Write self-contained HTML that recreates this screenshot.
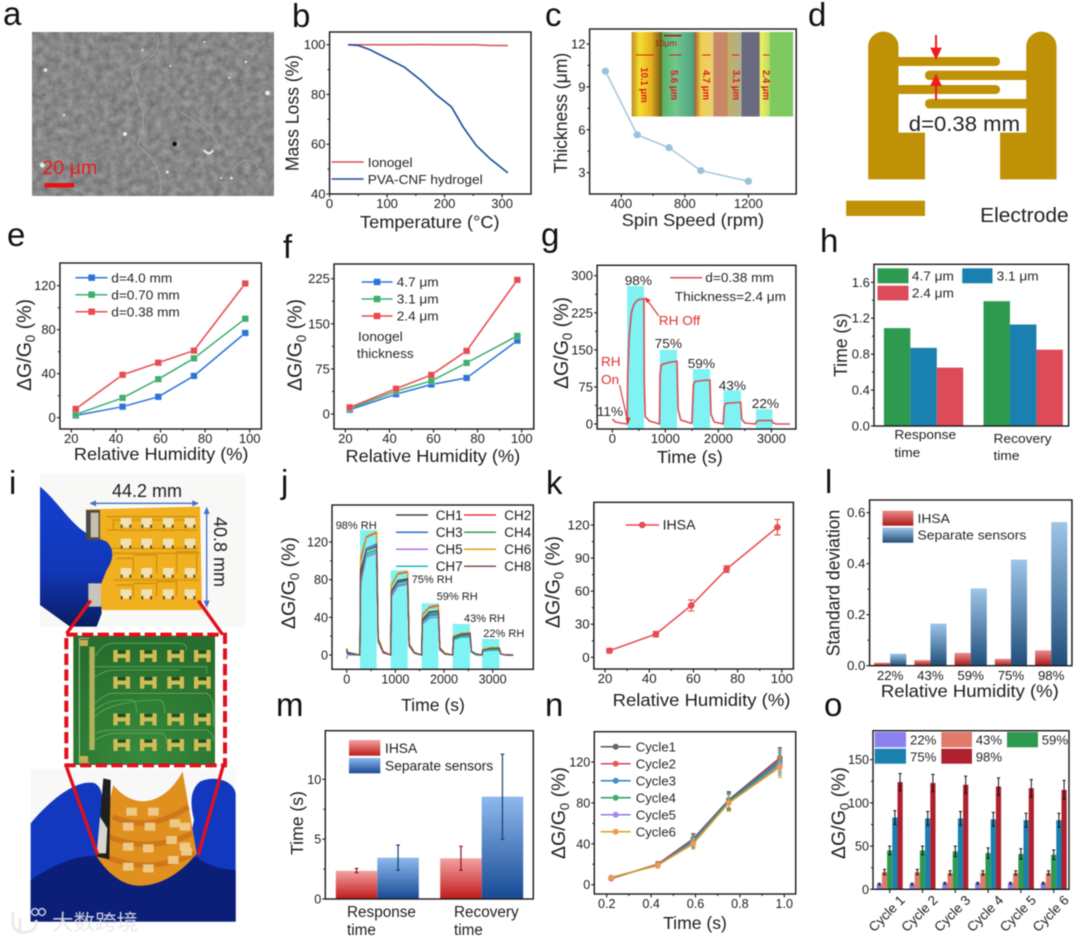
<!DOCTYPE html>
<html lang="en">
<head>
<meta charset="utf-8">
<title>Humidity sensor array figure</title>
<style>
html,body{margin:0;padding:0;background:#fff;width:1080px;height:941px;overflow:hidden}
svg{display:block;filter:blur(0.5px)}
text{font-family:"Liberation Sans","Noto Sans CJK SC",sans-serif;fill:#1d1d1d}
.letter{font-size:33px;fill:#111}
.title{font-size:17.6px;fill:#1d1d1d}
.dg{font-size:19.6px;fill:#1d1d1d}
.leg{font-size:13.2px;fill:#262626}
.red{fill:#e0302f}
.pin{font-size:9.5px;fill:#e01818;font-weight:bold}
</style>
</head>
<body>
<svg id="fig" xmlns="http://www.w3.org/2000/svg" width="1080" height="941" viewBox="0 0 1080 941">
<defs>
<filter id="sem" x="0" y="0" width="100%" height="100%" color-interpolation-filters="sRGB">
<feTurbulence type="fractalNoise" baseFrequency="0.14" numOctaves="4" seed="4"/>
<feColorMatrix values=".26 0 0 0 .4  .26 0 0 0 .4  .26 0 0 0 .4  0 0 0 0 1"/>
</filter>
<linearGradient id="redL" x1="0" y1="0" x2="0" y2="1"><stop offset="0" stop-color="#ee8a8a"/><stop offset="1" stop-color="#a81c1c"/></linearGradient>
<linearGradient id="blueL" x1="0" y1="0" x2="0" y2="1"><stop offset="0" stop-color="#9fc5e8"/><stop offset="1" stop-color="#1f4e79"/></linearGradient>
<linearGradient id="redM" x1="0" y1="0" x2="0" y2="1"><stop offset="0" stop-color="#f4a2a2"/><stop offset="1" stop-color="#c01a1a"/></linearGradient>
<linearGradient id="blueM" x1="0" y1="0" x2="0" y2="1"><stop offset="0" stop-color="#8fb9ee"/><stop offset="1" stop-color="#174a95"/></linearGradient>
<linearGradient id="film" x1="0" y1="0" x2="1" y2="0">
<stop offset="0" stop-color="#c08a20"/><stop offset=".05" stop-color="#f2e030"/><stop offset=".12" stop-color="#e8b020"/><stop offset=".185" stop-color="#6e5a10"/>
<stop offset=".19" stop-color="#55b060"/><stop offset=".27" stop-color="#70c890"/><stop offset=".385" stop-color="#50a080"/>
<stop offset=".39" stop-color="#a06030"/><stop offset=".43" stop-color="#f0d050"/><stop offset=".505" stop-color="#e8d070"/>
<stop offset=".507" stop-color="#c88868"/><stop offset=".592" stop-color="#c88868"/>
<stop offset=".597" stop-color="#c0b060"/><stop offset=".68" stop-color="#b0b090"/>
<stop offset=".682" stop-color="#6a6a80"/><stop offset=".79" stop-color="#6a6a80"/>
<stop offset=".795" stop-color="#f0f060"/><stop offset=".85" stop-color="#c0e060"/>
<stop offset=".86" stop-color="#80c860"/><stop offset="1" stop-color="#80c860"/>
</linearGradient>
<radialGradient id="pcb" cx=".5" cy=".9" r=".8"><stop offset="0" stop-color="#378a3d"/><stop offset="1" stop-color="#276f2e"/></radialGradient>
<linearGradient id="gloveDark" x1="0" y1="0" x2="0" y2="1"><stop offset="0" stop-color="#1440d0"/><stop offset=".6" stop-color="#1238b8"/><stop offset="1" stop-color="#0a1c60"/></linearGradient>
</defs>

<g>
<text class="letter" x="3" y="25">a</text>
<text class="letter" x="292" y="27">b</text>
<text class="letter" x="545" y="26">c</text>
<text class="letter" x="808" y="26">d</text>
<text class="letter" x="7" y="246">e</text>
<text class="letter" x="283" y="258">f</text>
<text class="letter" x="541" y="246">g</text>
<text class="letter" x="820" y="252">h</text>
<text class="letter" x="9" y="494">i</text>
<text class="letter" x="281" y="493">j</text>
<text class="letter" x="546" y="494">k</text>
<text class="letter" x="825" y="493">l</text>
<text class="letter" x="276" y="716">m</text>
<text class="letter" x="545" y="716">n</text>
<text class="letter" x="824" y="716">o</text>
</g>

<g transform="scale(1.0331,1)">
<g id="panel-a">
<rect x="31" y="32" width="234" height="164" fill="#868686" filter="url(#sem)"/>
<g fill="none" stroke="#a8a8a8" stroke-width="1" opacity=".8">
<path d="M152,34 C160,60 130,62 127,72 C135,100 145,120 133,145 C150,160 158,170 155,195"/>
<path d="M175,112 C195,125 215,140 212,152"/>
<path d="M225,170 C240,150 250,165 252,172"/>
</g>
<g fill="#e8e8e8">
<circle cx="44" cy="70" r="1.8"/><circle cx="41" cy="165" r="2.6"/><circle cx="121" cy="134" r="2"/><circle cx="259" cy="93" r="2.4"/><circle cx="162" cy="172" r="1.4"/><circle cx="224" cy="178" r="1.4"/><circle cx="214" cy="178" r="1"/><circle cx="138" cy="50" r="1"/><circle cx="62" cy="115" r="1.1"/><circle cx="198" cy="42" r="1"/><circle cx="238" cy="62" r="1.2"/><circle cx="222" cy="78" r="1"/><circle cx="165" cy="66" r="1"/>
<path d="M198,149 q4,6 8,0 l1,2 q-5,7 -10,0z"/>
</g>
<circle cx="169" cy="144" r="2.2" fill="#0c0c0c"/>
<text x="41" y="174" font-size="19" style="fill:#ee1c1c">20 μm</text>
<rect x="43" y="183" width="29" height="4.5" fill="#e81010"/>
</g>

<g id="panel-b">
<text class="title" transform="translate(289,113) rotate(-90)" text-anchor="middle">Mass Loss (%)</text>
<text class="title" x="416" y="228" text-anchor="middle">Temperature (°C)</text>
<line x1="321" x2="352" y1="162" y2="162" stroke="#d8505a" stroke-width="1.5"/>
<text class="leg" x="356" y="167">Ionogel</text>
<line x1="321" x2="352" y1="179" y2="179" stroke="#1c4f9c" stroke-width="1.5"/>
<text class="leg" x="356" y="184">PVA-CNF hydrogel</text>
</g>
</g>

<g transform="translate(540,0) scale(1.0331,1) translate(-540,0)">
<g id="panel-c">
<text class="title" transform="translate(566,113) rotate(-90)" text-anchor="middle">Thickness (μm)</text>
<text class="title" x="688" y="226" text-anchor="middle">Spin Speed (rpm)</text>
</g>
<g id="panel-c-inset">
<rect x="628.7" y="32" width="156.3" height="84.5" fill="url(#film)"/>
<rect x="660" y="34.8" width="17" height="1.6" fill="#b01818"/>
<text x="651" y="46" font-size="8.5" style="fill:#b01818">10μm</text>
<g stroke="#e01818" stroke-width="1">
<line x1="633" x2="650" y1="55" y2="55"/><line x1="665" x2="677" y1="55" y2="55"/><line x1="697" x2="705" y1="55" y2="55"/><line x1="726" x2="733" y1="55" y2="55"/><line x1="756" x2="762" y1="55" y2="55"/>
</g>
<text class="pin" transform="translate(638,85) rotate(90)" text-anchor="middle">10.1 μm</text>
<text class="pin" transform="translate(667,85) rotate(90)" text-anchor="middle">5.6 μm</text>
<text class="pin" transform="translate(698,85) rotate(90)" text-anchor="middle">4.7 μm</text>
<text class="pin" transform="translate(727,85) rotate(90)" text-anchor="middle">3.1 μm</text>
<text class="pin" transform="translate(756,85) rotate(90)" text-anchor="middle">2.4 μm</text>
</g>

<g id="panel-d">
<g transform="translate(540,0) scale(.33333)" fill="#bf9107">
<path d="M953,538 V139 A44,44 0 0 1 1041,139 V398 H1118 V538 Z"/>
<path d="M1500,538 V139 A44,44 0 0 0 1412,139 V398 H1336 V538 Z"/>
<rect x="1030" y="171" width="306" height="27" rx="13"/>
<rect x="1030" y="255" width="306" height="27" rx="13"/>
<rect x="1118" y="212" width="305" height="28" rx="13"/>
<rect x="1118" y="297" width="305" height="28" rx="13"/>
<rect x="889" y="602" width="229" height="46"/>
<g fill="#ee1c1c" stroke="#ee1c1c">
<line x1="1150" y1="105" x2="1150" y2="150" stroke-width="6"/><path d="M1133,143 H1167 L1150,180 Z" stroke="none"/>
<line x1="1150" y1="250" x2="1150" y2="300" stroke-width="6"/><path d="M1133,258 H1167 L1150,221 Z" stroke="none"/>
</g>
</g>
<text x="897" y="131" font-size="21.4" style="fill:#222">d=0.38 mm</text>
<text x="966" y="222" font-size="20.3" style="fill:#222">Electrode</text>
</g>
</g>

<g transform="scale(1.0331,1)">
<g id="panel-e">
<text class="dg" transform="translate(30,345) rotate(-90)" text-anchor="middle">ΔG/G<tspan font-size="13" dy="4">0</tspan><tspan dy="-4"> (%)</tspan></text>
<text class="title" x="156" y="460" text-anchor="middle">Relative Humidity (%)</text>
<g>
<line x1="73" x2="104" y1="277.7" y2="277.7" stroke="#2b74d8" stroke-width="1.5"/><rect x="85.5" y="274.5" width="6.4" height="6.4" fill="#2b74d8"/>
<text class="leg" x="107.7" y="282.3">d=4.0 mm</text>
<line x1="73" x2="104" y1="294.7" y2="294.7" stroke="#3fae6d" stroke-width="1.5"/><rect x="85.5" y="291.5" width="6.4" height="6.4" fill="#3fae6d"/>
<text class="leg" x="107.7" y="299.3">d=0.70 mm</text>
<line x1="73" x2="104" y1="311.7" y2="311.7" stroke="#e84a4f" stroke-width="1.5"/><rect x="85.5" y="308.5" width="6.4" height="6.4" fill="#e84a4f"/>
<text class="leg" x="107.7" y="316.3">d=0.38 mm</text>
</g>
</g>

<g id="panel-f">
<text class="dg" transform="translate(292,345) rotate(-90)" text-anchor="middle">ΔG/G<tspan font-size="13" dy="4">0</tspan><tspan dy="-4"> (%)</tspan></text>
<text class="title" x="419" y="462" text-anchor="middle">Relative Humidity (%)</text>
<g>
<line x1="350" x2="380" y1="282" y2="282" stroke="#2b74d8" stroke-width="1.5"/><rect x="361.8" y="278.8" width="6.4" height="6.4" fill="#2b74d8"/>
<text class="leg" x="384" y="286.5">4.7 μm</text>
<line x1="350" x2="380" y1="299" y2="299" stroke="#3fae6d" stroke-width="1.5"/><rect x="361.8" y="295.8" width="6.4" height="6.4" fill="#3fae6d"/>
<text class="leg" x="384" y="303.5">3.1 μm</text>
<line x1="350" x2="380" y1="316" y2="316" stroke="#e84a4f" stroke-width="1.5"/><rect x="361.8" y="312.8" width="6.4" height="6.4" fill="#e84a4f"/>
<text class="leg" x="384" y="320.5">2.4 μm</text>
<text class="leg" x="346.5" y="341" font-size="12.6">Ionogel</text>
<text class="leg" x="345.5" y="358" font-size="12.6">thickness</text>
</g>
</g>
</g>

<g transform="translate(540,0) scale(1.0331,1) translate(-540,0)">
<g id="panel-g">
<text class="dg" transform="translate(567,343) rotate(-90)" text-anchor="middle">ΔG/G<tspan font-size="13" dy="4">0</tspan><tspan dy="-4"> (%)</tspan></text>
<text class="title" x="685" y="463" text-anchor="middle">Time (s)</text>
</g>
<g id="panel-g-notes">
<line x1="666" x2="697" y1="277.7" y2="277.7" stroke="#d8505a" stroke-width="1.5"/>
<text class="leg" x="700" y="282">d=0.38 mm</text>
<text class="leg" x="670.5" y="301">Thickness=2.4 μm</text>
<text class="leg" x="622" y="285">98%</text>
<text class="leg" x="651" y="348">75%</text>
<text class="leg" x="683" y="368">59%</text>
<text class="leg" x="713" y="390">43%</text>
<text class="leg" x="745" y="408">22%</text>
<text class="leg" x="595" y="416">11%</text>
<text class="leg red" x="655" y="325">RH Off</text>
<text class="leg red" x="599" y="366">RH</text>
<text class="leg red" x="599" y="384">On</text>
<g stroke="#e0302f" fill="#e0302f" stroke-width="1.1">
<line x1="655" y1="316" x2="643" y2="299"/><path d="M641,297 l6,3 l-3.5,3z" stroke="none"/>
<line x1="617" y1="385" x2="625" y2="422"/><path d="M625.5,424 l-3,-6 l5,-.8z" stroke="none"/>
</g>
</g>

<g id="panel-h">
<text class="title" transform="translate(837,345) rotate(-90)" text-anchor="middle">Time (s)</text>
<text x="883" y="439" font-size="13.3">Response</text>
<text x="883" y="457" font-size="13.3">time</text>
<text x="979" y="443" font-size="13.3">Recovery</text>
<text x="979" y="460" font-size="13.3">time</text>
</g>
<g id="panel-h-legend">
<rect x="866.7" y="268.3" width="30" height="15" fill="#2e9a50"/>
<text class="leg" x="900" y="280.5">4.7 μm</text>
<rect x="948.7" y="268.3" width="29.3" height="15" fill="#1a80b0"/>
<text class="leg" x="982" y="280.5">3.1 μm</text>
<rect x="866.7" y="285.7" width="30" height="14.7" fill="#dd4a58"/>
<text class="leg" x="900" y="297.5">2.4 μm</text>
</g>
</g>

<g id="panel-i">
<g transform="translate(0,470) scale(.33333)">
<rect x="120" y="10" width="615" height="460" fill="#f8f8f6"/>
<path d="M258,118 L600,110 L606,420 L300,420 Z" fill="#f0b020"/>
<g fill="none" stroke="#cf9012" stroke-width="4">
<path d="M320,140 H590 M340,180 V150 H590 M320,180 H590 M320,235 H590 M340,250 H600 M400,310 V265 H350 M470,310 V255 H400 M530,310 V250 H470 M590,310 V245 H530 M340,330 H600 M400,380 V345 H350 M470,380 V340 H400 M530,380 V335 H470"/>
</g>
<path d="M120,50 C170,90 210,160 260,190 L320,215 C345,240 340,270 320,300 L300,350 L305,430 L290,470 L210,470 L120,405 Z" fill="url(#gloveDark)"/>
<rect x="258" y="120" width="42" height="90" fill="#4a4a48"/>
<rect x="272" y="128" width="24" height="74" fill="#c4bfae"/>
<rect x="265" y="340" width="38" height="70" fill="#c8c4bc"/>
<g id="pads-yellow"></g>
<g stroke="#4472c4" stroke-width="4" fill="#4472c4">
<line x1="280" y1="100" x2="585" y2="100"/><path d="M268,100 l20,-9 v18z M597,100 l-20,-9 v18z" stroke="none"/>
<line x1="620" y1="125" x2="620" y2="400"/><path d="M620,110 l-9,22 h18z M620,414 l-9,-22 h18z" stroke="none"/>
</g>
<rect x="220" y="497" width="425" height="388" fill="url(#pcb)"/>
<path d="M238,505 H268 M238,505 V878 M268,878 H238" fill="none" stroke="#d8e8c8" stroke-width="2"/>
<rect x="240" y="510" width="24" height="18" fill="#c8b050"/>
<rect x="240" y="858" width="24" height="18" fill="#c8b050"/>
<rect x="268" y="530" width="16" height="310" fill="#c8bc60" opacity=".85"/>
<g fill="none" stroke="#64aa58" stroke-width="2.5">
<path d="M285,560 C300,540 310,520 340,520 H540 Q560,520 560,540"/>
<path d="M285,590 C310,590 320,590 340,590 H620 V610"/>
<path d="M285,620 C320,600 330,600 360,600 H540"/>
<path d="M285,700 C310,680 320,670 340,670 H620 Q640,680 640,720 V770"/>
<path d="M285,720 C320,690 350,690 400,690 Q410,700 410,730"/>
<path d="M285,740 C320,700 420,690 480,690 Q495,700 495,730"/>
<path d="M285,790 C310,780 320,780 350,780 H620 Q640,790 640,810"/>
<path d="M285,810 C310,795 330,790 350,790 H490 Q500,800 500,820"/>
</g>
<g id="pads-green"></g>
<rect x="92" y="897" width="615" height="458" fill="#f8f8f8"/>
<path d="M92,1060 C150,990 230,925 285,940 C312,955 310,1000 302,1050 L295,1150 L560,1160 L582,1050 C570,1000 570,960 600,935 C640,915 700,930 707,970 V1355 H92 Z" fill="#1238c0"/>
<path d="M92,1230 C180,1170 260,1150 300,1160 L590,1160 C620,1190 680,1200 707,1200 V1355 H92 Z" fill="#0b1f78"/>
<path d="M340,945 C400,1020 490,1010 548,905 L590,1150 C520,1240 430,1260 380,1240 C340,1225 310,1190 290,1160 Z" fill="#e0901f"/>
<g fill="none" stroke="#c8701a" stroke-width="16" opacity=".75">
<path d="M338,1040 Q450,1090 565,1010"/><path d="M325,1100 Q450,1150 578,1090"/><path d="M318,1160 Q450,1215 585,1150"/>
</g>
<path d="M310,925 L332,930 L328,1168 L290,1160 Z" fill="#20201f"/>
<path d="M300,1040 L322,1075 L318,1150 L290,1150 Z" fill="#d8d6d0"/>
<g id="pads-bent"></g>
<g stroke="#e0101c" stroke-width="10" fill="none">
<rect x="199" y="494" width="476" height="392" stroke-dasharray="34 13" stroke-width="12"/>
<path d="M272,392 L200,490 M595,392 L668,494 M200,892 L293,1155 M670,885 L595,1155"/>
</g>
</g>
<text x="147" y="497" text-anchor="middle" font-size="18">44.2 mm</text>
<text transform="translate(214,552) rotate(90)" text-anchor="middle" font-size="18">40.8 mm</text>
<g opacity=".85">
<path d="M13,912 V925 Q16,934 27,932 Q38,930 36,920 M20,918 V930" fill="none" stroke="#e8e8ec" stroke-width="3"/>
<circle cx="35" cy="912" r="3.4" fill="none" stroke="#e8e8ec" stroke-width="1.5"/><circle cx="42" cy="912" r="3.4" fill="none" stroke="#e8e8ec" stroke-width="1.5"/>
<text x="52" y="930" font-size="21.5" style="fill:#e6e6ea;font-family:'Liberation Sans','Noto Sans CJK SC',sans-serif">大数跨境</text>
</g>
</g>

<g id="panel-j">
<text class="dg" transform="translate(295,583) rotate(-90)" text-anchor="middle">ΔG/G<tspan font-size="13" dy="4">0</tspan><tspan dy="-4"> (%)</tspan></text>
<text class="title" x="433" y="711" text-anchor="middle">Time (s)</text>
</g>
<g id="panel-j-notes">
<text x="335.7" y="529" font-size="11">98% RH</text>
<text x="411.7" y="583" font-size="11">75% RH</text>
<text x="436.7" y="600" font-size="11">59% RH</text>
<text x="464" y="622" font-size="11">43% RH</text>
<text x="483.3" y="637" font-size="11">22% RH</text>
<g stroke-width="1.5">
<line x1="396" x2="428" y1="515" y2="515" stroke="#444"/><line x1="464" x2="496" y1="515" y2="515" stroke="#e83a3a"/>
<line x1="396" x2="428" y1="532.3" y2="532.3" stroke="#2a6fd0"/><line x1="464" x2="496" y1="532.3" y2="532.3" stroke="#2fa060"/>
<line x1="396" x2="428" y1="549.3" y2="549.3" stroke="#b070e0"/><line x1="464" x2="496" y1="549.3" y2="549.3" stroke="#d8a018"/>
<line x1="396" x2="428" y1="566.3" y2="566.3" stroke="#20b8c8"/><line x1="464" x2="496" y1="566.3" y2="566.3" stroke="#80504a"/>
</g>
<text x="435.7" y="520" font-size="13.5">CH1</text>
<text x="504.3" y="520" font-size="13.5">CH2</text>
<text x="435.7" y="537" font-size="13.5">CH3</text>
<text x="504.3" y="537" font-size="13.5">CH4</text>
<text x="435.7" y="554" font-size="13.5">CH5</text>
<text x="504.3" y="554" font-size="13.5">CH6</text>
<text x="435.7" y="571" font-size="13.5">CH7</text>
<text x="504.3" y="571" font-size="13.5">CH8</text>
</g>

<g transform="translate(530,0) scale(1.0523,1) translate(-530,0)">
<g id="panel-k">
<text class="dg" transform="translate(558,582) rotate(-90)" text-anchor="middle">ΔG/G<tspan font-size="13" dy="4">0</tspan><tspan dy="-4"> (%)</tspan></text>
<text class="title" x="693" y="706" text-anchor="middle">Relative Humidity (%)</text>
<line x1="621" x2="652.7" y1="525" y2="525" stroke="#e84a4f" stroke-width="1.5"/>
<circle cx="636.7" cy="525" r="3.2" fill="#e84a4f"/>
<text x="656" y="529.5" font-size="13.4">IHSA</text>
</g>

<g id="panel-l">
<text class="title" transform="translate(824,583) rotate(-90)" text-anchor="middle">Standard deviation</text>
<text class="title" x="948" y="697" text-anchor="middle">Relative Humidity (%)</text>
</g>
<g id="panel-l-legend">
<rect x="865" y="510.7" width="29.3" height="15" fill="url(#redL)"/>
<text class="leg" x="898.3" y="523">IHSA</text>
<rect x="865" y="527.7" width="29.3" height="15" fill="url(#blueL)"/>
<text class="leg" x="898.3" y="539.5" font-size="12.9">Separate sensors</text>
</g>
</g>

<g id="panel-m">
<text class="title" transform="translate(303,823) rotate(-90)" text-anchor="middle">Time (s)</text>
<text x="347" y="917" font-size="15.3">Response</text>
<text x="347" y="935" font-size="15.3">time</text>
<text x="454" y="917" font-size="15.3">Recovery</text>
<text x="454" y="935" font-size="15.3">time</text>
</g>
<g id="panel-m-legend">
<rect x="349" y="740" width="31.3" height="15.7" fill="url(#redM)"/>
<text x="385" y="753" font-size="13.8">IHSA</text>
<rect x="349" y="758" width="31.3" height="15.3" fill="url(#blueM)"/>
<text x="385" y="770.5" font-size="13.8">Separate sensors</text>
</g>

<g id="panel-n">
<text class="dg" transform="translate(565,813) rotate(-90)" text-anchor="middle">ΔG/G<tspan font-size="13" dy="4">0</tspan><tspan dy="-4"> (%)</tspan></text>
<text class="title" x="695" y="929" text-anchor="middle">Time (s)</text>
</g>
<g id="panel-n-legend">
<g stroke-width="1.5">
<line x1="600.7" x2="630.7" y1="746.7" y2="746.7" stroke="#555"/><line x1="600.7" x2="630.7" y1="763.7" y2="763.7" stroke="#d9434f"/><line x1="600.7" x2="630.7" y1="780.7" y2="780.7" stroke="#2e7ebf"/><line x1="600.7" x2="630.7" y1="797.7" y2="797.7" stroke="#2f9e5a"/><line x1="600.7" x2="630.7" y1="814.7" y2="814.7" stroke="#9a77dc"/><line x1="600.7" x2="630.7" y1="831.7" y2="831.7" stroke="#d8a020"/>
</g>
<g>
<circle cx="615.7" cy="746.7" r="3" fill="#666"/><circle cx="615.7" cy="763.7" r="3" fill="#e8565f"/><circle cx="615.7" cy="780.7" r="3" fill="#3f8fd0"/><circle cx="615.7" cy="797.7" r="3" fill="#3fae6a"/><circle cx="615.7" cy="814.7" r="3" fill="#a78aea"/><circle cx="615.7" cy="831.7" r="3" fill="#ee9a50"/>
</g>
<text class="leg" x="635.7" y="751.5">Cycle1</text>
<text class="leg" x="635.7" y="768.5">Cycle2</text>
<text class="leg" x="635.7" y="785.5">Cycle3</text>
<text class="leg" x="635.7" y="802.5">Cycle4</text>
<text class="leg" x="635.7" y="819.5">Cycle5</text>
<text class="leg" x="635.7" y="836.5">Cycle6</text>
</g>

<g id="panel-o">
<text class="dg" transform="translate(845,813) rotate(-90)" text-anchor="middle">ΔG/G<tspan font-size="13" dy="4">0</tspan><tspan dy="-4"> (%)</tspan></text>
</g>
<g id="panel-o-legend">
<rect x="874.7" y="732" width="31.3" height="15.3" fill="#8a80f0"/>
<text class="leg" x="910" y="744.5">22%</text>
<rect x="941.3" y="732" width="30.7" height="15.3" fill="#e07a6a"/>
<text class="leg" x="975.7" y="744.5">43%</text>
<rect x="1007" y="732" width="31" height="15.3" fill="#2e9a50"/>
<text class="leg" x="1041.7" y="744.5">59%</text>
<rect x="874.7" y="748.7" width="31.3" height="15" fill="#1a80b0"/>
<text class="leg" x="910" y="761.5">75%</text>
<rect x="941.3" y="748.7" width="30.7" height="15" fill="#b0202f"/>
<text class="leg" x="975.7" y="761.5">98%</text>
</g>
</svg>

<script>
// ---------- chart data ----------
const bTemp = [32,50,70,100,130,160,185,212,232,255,280,310];
const bHydrogel = [100,99.7,98,94.5,91,85.5,80,75,67,59.5,54,48.5];
const bIonogel = [100,100,100,100,100,100.1,100,100,100,100,99.7,99.7];
const bXTicks = [0,100,200,300];
const bYTicks = [40,60,80,100];

const cSpeed = [300,500,700,900,1200];
const cThickness = [10.1,5.65,4.75,3.15,2.4];
const cXTicks = [400,800,1200];
const cYTicks = [3,6,9,12];

const humidity = [22,43,59,75,98];
const humidityTicks = [20,40,60,80,100];
const eD40 = [2,10,19,38,77];
const eD070 = [3,18,35,54,90];
const eD038 = [8,39,50,61,122];
const eYTicks = [0,40,80,120];
const f47 = [7,33,49,60,122];
const f31 = [9,38,55,85,130];
const f24 = [11,42,65,105,223];
const fYTicks = [0,75,150,225];

const gTime = [0,60,150,280,290,320,360,400,450,500,597,602,620,700,890,900,925,1050,1220,1240,1290,1500,1530,1560,1700,1840,1860,1920,2090,2110,2140,2300,2420,2440,2500,2700,2720,2760,3010,3030,3100,3350];
const gResponse = [10,4,2,0,100,180,225,240,248,252,253,90,15,6,0,100,120,124,127,30,8,1,80,86,88,89,20,4,0,35,42,43,44,10,2,0,5,7,7,2,0,0];
const gPulseStart = [279,896,1520,2097,2708];
const gPulseEnd = [597,1220,1844,2429,3019];
const gPulseTop = [279,150,111,68,30];
const gXTicks = [0,1000,2000,3000];
const gYTicks = [0,75,150,225,300];

const hCategories = ['response','recovery'];
const hThick47 = [1.09,1.39];
const hThick31 = [0.87,1.13];
const hThick24 = [0.65,0.85];
const hYTicks = [0,0.4,0.8,1.2,1.6];
const hYLabels = ['0.0','0.4','0.8','1.2','1.6'];

const jTime = [0,20,270,285,400,616,646,750,904,919,1050,1253,1283,1390,1540,1555,1700,1884,1914,2020,2178,2193,2350,2534,2564,2660,2780,2795,2950,3137,3167,3270,3420];
const jCh1 = [5,2,0,90,111,116,16,3,0,68,79,81,11,2,0,37,45,46,7,1,0,19,22,23,4,1,0,5,7,7,1,0,0];
const jCh2 = [4,2,0,100,125,130,18,4,0,74,86,88,12,3,0,43,51,53,8,2,0,19,23,23,4,1,0,5,7,7,1,0,0];
const jCh3 = [6,1,0,85,113,118,15,3,0,66,77,79,10,2,0,36,43,44,6,1,0,18,21,22,3,1,0,5,6,6,1,0,0];
const jCh4 = [3,1,0,88,108,112,14,3,0,63,74,76,10,2,0,35,42,43,6,1,0,17,20,21,3,0,0,4,6,6,1,0,0];
const jCh5 = [-4,0,0,75,104,108,14,2,0,62,73,75,9,2,0,33,39,40,5,1,0,16,19,20,3,0,0,4,5,5,1,0,0];
const jCh6 = [5,2,0,104,126,131,18,4,0,75,87,89,12,3,0,42,50,51,8,2,0,20,23,24,4,1,0,6,8,8,1,0,0];
const jCh7 = [2,1,0,80,106,110,15,3,0,65,76,78,10,2,0,34,41,42,6,1,0,16,19,19,3,0,0,4,5,5,1,0,0];
const jCh8 = [7,3,0,82,111,115,16,3,0,67,78,80,11,2,0,38,46,47,7,1,0,19,22,23,4,1,0,5,7,7,1,0,0];
const jPulseStart = [274,904,1540,2178,2780];
const jPulseEnd = [616,1253,1884,2534,3137];
const jPulseTop = [132.7,90,55,33,17];
const jXTicks = [0,1000,2000,3000];
const jYTicks = [0,40,80,120];

const kMean = [6,21,47,80,118];
const kError = [2,2.5,5,3,7];
const kYTicks = [0,30,60,90,120];

const lCategories = ['22%','43%','59%','75%','98%'];
const lIhsa = [0.012,0.022,0.05,0.027,0.06];
const lSeparate = [0.047,0.165,0.303,0.416,0.563];
const lYTicks = [0,0.2,0.4,0.6];
const lYLabels = ['0.0','0.2','0.4','0.6'];

const mIhsa = [2.35,3.4];
const mSeparate = [3.45,8.55];
const mIhsaLow = [2.2,2.4];
const mIhsaHigh = [2.55,4.4];
const mSeparateLow = [2.4,5];
const mSeparateHigh = [4.5,12.1];
const mYTicks = [0,5,10];

const nHumidity = [0.22,0.43,0.59,0.75,0.98];
const nCycle1 = [6,20,45,83,124];
const nCycle2 = [6,20,45,82,123];
const nCycle3 = [7,19,44,82,121];
const nCycle4 = [7,19,42,81,119];
const nCycle5 = [7,19,41,80,117];
const nCycle6 = [7,19,40,80,115];
const nError = [1.5,2.5,5,8,10];
const nXTicks = [0.2,0.4,0.6,0.8,1];
const nXLabels = ['0.2','0.4','0.6','0.8','1.0'];
const nYTicks = [0,40,80,120];

const oCycles = ['Cycle 1','Cycle 2','Cycle 3','Cycle 4','Cycle 5','Cycle 6'];
const oRh22 = [6,6,7,7,7,7];
const oRh43 = [20,20,19,19,19,19];
const oRh59 = [45,45,44,42,41,40];
const oRh75 = [83,82,82,81,80,80];
const oRh98 = [124,123,121,119,117,115];
const oErr22 = [1,1,1,1,1,1];
const oErr43 = [3,3,2.5,2.5,2.5,2.5];
const oErr59 = [5,5,6,6,6,5.5];
const oErr75 = [8,8,8,8,8,8];
const oErr98 = [10,10,10,10,10,11];
const oYTicks = [0,50,100,150];

// ---------- drawing helpers ----------
const NS = 'http://www.w3.org/2000/svg';
function add(parent, tag, attrs, name) {
  const el = document.createElementNS(NS, tag);
  for (const k in attrs) el.setAttribute(k, attrs[k]);
  
  
  parent.appendChild(el);
  return el;
}
function linear(d0, d1, r0, r1) { return v => r0 + (v - d0) * (r1 - r0) / (d1 - d0); }
function line(g, xs, ys, sx, sy, color, w, name) {
  const pts = xs.map((x, i) => sx(x).toFixed(2) + ',' + sy(ys[i]).toFixed(2)).join(' ');
  return add(g, 'polyline', {points: pts, fill: 'none', stroke: color, 'stroke-width': w, 'stroke-linejoin': 'round'}, name);
}
function squares(g, xs, ys, sx, sy, color, name) {
  xs.forEach((x, i) => {
    add(g, 'rect', {x: sx(x) - 3.2, y: sy(ys[i]) - 3.2, width: 6.4, height: 6.4, fill: color, stroke: '#fff', 'stroke-opacity': .35, 'stroke-width': .6}, name + '-point-' + i);
  });
}
function circles(g, xs, ys, sx, sy, color, r, name) {
  xs.forEach((x, i) => {
    add(g, 'circle', {cx: sx(x), cy: sy(ys[i]), r: r, fill: color}, name + '-point-' + i);
  });
}
function errorBar(g, x, yLo, yHi, color, cap, w, name) {
  add(g, 'path', {d: 'M' + x + ',' + yLo + 'V' + yHi + 'M' + (x - cap) + ',' + yLo + 'h' + 2 * cap + 'M' + (x - cap) + ',' + yHi + 'h' + 2 * cap, stroke: color, 'stroke-width': w, fill: 'none'}, name);
}
function axes(g, box, sx, sy, xTicks, yTicks, xLabels, yLabels) {
  add(g, 'rect', {x: box.l, y: box.t, width: box.r - box.l, height: box.b - box.t, fill: 'none', stroke: '#1a1a1a', 'stroke-width': 1.4}, 'plot-frame');
  if (xTicks) xTicks.forEach((t, i) => {
    const x = sx(t);
    add(g, 'line', {x1: x, x2: x, y1: box.b, y2: box.b + 3.5, stroke: '#1a1a1a', 'stroke-width': 1.1}, 'x-tick');
    const lab = add(g, 'text', {x: x, y: box.b + 14, 'text-anchor': 'middle', 'font-size': 12.6}, 'x-tick-label');
    lab.textContent = xLabels ? xLabels[i] : String(t);
    if (i < xTicks.length - 1) {
      const mx = (x + sx(xTicks[i + 1])) / 2;
      add(g, 'line', {x1: mx, x2: mx, y1: box.b, y2: box.b + 2, stroke: '#1a1a1a', 'stroke-width': 1}, 'x-minor-tick');
    }
  });
  yTicks.forEach((t, i) => {
    const y = sy(t);
    add(g, 'line', {x1: box.l - 3, x2: box.l, y1: y, y2: y, stroke: '#1a1a1a', 'stroke-width': 1.1}, 'y-tick');
    const lab = add(g, 'text', {x: box.l - 4, y: y + 4.5, 'text-anchor': 'end', 'font-size': 12.6}, 'y-tick-label');
    lab.textContent = yLabels ? yLabels[i] : String(t);
    if (i < yTicks.length - 1) {
      const my = (y + sy(yTicks[i + 1])) / 2;
      add(g, 'line', {x1: box.l - 2, x2: box.l, y1: my, y2: my, stroke: '#1a1a1a', 'stroke-width': 1}, 'y-minor-tick');
    }
  });
}
function pulses(g, starts, ends, tops, sx, sy, bottom) {
  starts.forEach((s, i) => {
    add(g, 'rect', {x: sx(s), y: sy(tops[i]), width: sx(ends[i]) - sx(s), height: bottom - sy(tops[i]), fill: '#7ff3f3'}, 'humidity-pulse-' + i);
  });
}
function panel(id) { return document.getElementById(id); }

// ---------- b ----------
(function () {
  const g = panel('panel-b');
  const sx = linear(0, 300, 319, 486), sy = linear(40, 100, 194, 44.7);
  line(g, bTemp, bIonogel, sx, sy, '#d8505a', 1.5, 'ionogel-curve');
  line(g, bTemp, bHydrogel, sx, sy, '#1c4f9c', 1.6, 'hydrogel-curve');
  axes(g, {l: 319, t: 32, r: 514, b: 194}, sx, sy, bXTicks, bYTicks);
})();

// ---------- c ----------
(function () {
  const g = panel('panel-c');
  const sx = linear(400, 1200, 618.7, 741.7), sy = linear(3, 12, 172.7, 44);
  line(g, cSpeed, cThickness, sx, sy, '#a3c6dd', 1.5, 'thickness-line');
  circles(g, cSpeed, cThickness, sx, sy, '#9cc3da', 3.6, 'thickness');
  axes(g, {l: 588, t: 29, r: 788, b: 194}, sx, sy, cXTicks, cYTicks);
})();

// ---------- e ----------
(function () {
  const g = panel('panel-e');
  const sx = linear(20, 100, 69, 241.7), sy = linear(0, 120, 417.7, 285.7);
  line(g, humidity, eD40, sx, sy, '#2b74d8', 1.5, 'd4-line');
  line(g, humidity, eD070, sx, sy, '#3fae6d', 1.5, 'd070-line');
  line(g, humidity, eD038, sx, sy, '#e84a4f', 1.5, 'd038-line');
  squares(g, humidity, eD40, sx, sy, '#2b74d8', 'd4');
  squares(g, humidity, eD070, sx, sy, '#3fae6d', 'd070');
  squares(g, humidity, eD038, sx, sy, '#e84a4f', 'd038');
  axes(g, {l: 58, t: 263, r: 253, b: 429}, sx, sy, humidityTicks, eYTicks);
})();

// ---------- f ----------
(function () {
  const g = panel('panel-f');
  const sx = linear(20, 100, 334.3, 505), sy = linear(0, 225, 414, 278.7);
  line(g, humidity, f47, sx, sy, '#2b74d8', 1.5, 'thick-47-line');
  line(g, humidity, f31, sx, sy, '#3fae6d', 1.5, 'thick-31-line');
  line(g, humidity, f24, sx, sy, '#e84a4f', 1.5, 'thick-24-line');
  squares(g, humidity, f47, sx, sy, '#2b74d8', 'thick-47');
  squares(g, humidity, f31, sx, sy, '#3fae6d', 'thick-31');
  squares(g, humidity, f24, sx, sy, '#e84a4f', 'thick-24');
  axes(g, {l: 323.3, t: 264, r: 516.7, b: 429}, sx, sy, humidityTicks, fYTicks);
})();

// ---------- g ----------
(function () {
  const g = panel('panel-g');
  const sx = linear(0, 3000, 610, 764), sy = linear(0, 300, 424, 275.7);
  pulses(g, gPulseStart, gPulseEnd, gPulseTop, sx, sy, 429);
  line(g, gTime, gResponse, sx, sy, '#d8505a', 1.6, 'response-curve');
  axes(g, {l: 595.3, t: 265.3, r: 787.7, b: 429}, sx, sy, gXTicks, gYTicks);
})();

// ---------- h ----------
(function () {
  const g = panel('panel-h');
  const sy = linear(0, 1.6, 426, 282.3);
  const x0 = 911.3, step = 96.4, w = 25.6;
  const series = [hThick47, hThick31, hThick24];
  const colors = ['#2e9a50', '#1a80b0', '#dd4a58'];
  hCategories.forEach((c, i) => {
    series.forEach((s, j) => {
      const cx = x0 + step * i + (j - 1) * w;
      add(g, 'rect', {x: cx - w / 2, y: sy(s[i]), width: w, height: sy(0) - sy(s[i]), fill: colors[j]}, 'bar-' + c + '-' + j);
    });
  });
  axes(g, {l: 863.3, t: 264.3, r: 1051.7, b: 426}, null, sy, null, hYTicks, null, hYLabels);
})();

// ---------- j ----------
(function () {
  const g = panel('panel-j');
  const sx = linear(0, 3000, 346.7, 492.7), sy = linear(0, 120, 655, 542);
  pulses(g, jPulseStart, jPulseEnd, jPulseTop, sx, sy, 669.3);
  line(g, jTime, jCh2, sx, sy, '#e83a3a', 1.2, 'ch2-curve');
  line(g, jTime, jCh6, sx, sy, '#d8a018', 1.2, 'ch6-curve');
  line(g, jTime, jCh3, sx, sy, '#2a6fd0', 1.2, 'ch3-curve');
  line(g, jTime, jCh4, sx, sy, '#2fa060', 1.2, 'ch4-curve');
  line(g, jTime, jCh5, sx, sy, '#b070e0', 1.2, 'ch5-curve');
  line(g, jTime, jCh7, sx, sy, '#20b8c8', 1.2, 'ch7-curve');
  line(g, jTime, jCh1, sx, sy, '#444', 1.2, 'ch1-curve');
  line(g, jTime, jCh8, sx, sy, '#80504a', 1.2, 'ch8-curve');
  axes(g, {l: 332, t: 505, r: 533.3, b: 669.3}, sx, sy, jXTicks, jYTicks);
})();

// ---------- k ----------
(function () {
  const g = panel('panel-k');
  const sx = linear(20, 100, 601.3, 769.3), sy = linear(0, 120, 657.3, 525);
  line(g, humidity, kMean, sx, sy, '#e84a4f', 1.5, 'ihsa-line');
  humidity.forEach((h, i) => {
    errorBar(g, sx(h), sy(kMean[i] - kError[i]), sy(kMean[i] + kError[i]), '#e84a4f', 3, 1.1, 'ihsa-error-' + i);
  });
  circles(g, humidity, kMean, sx, sy, '#e84a4f', 3.2, 'ihsa');
  axes(g, {l: 590.7, t: 502.3, r: 780.3, b: 669}, sx, sy, humidityTicks, kYTicks);
})();

// ---------- l ----------
(function () {
  const g = panel('panel-l');
  const sy = linear(0, 0.6, 665.7, 512.7);
  const x0 = 872.3, step = 38.25, w = 15.3;
  lCategories.forEach((c, i) => {
    const cx = x0 + step * i;
    add(g, 'rect', {x: cx - w, y: sy(lIhsa[i]), width: w, height: sy(0) - sy(lIhsa[i]), fill: 'url(#redL)'}, 'bar-ihsa-' + c);
    add(g, 'rect', {x: cx, y: sy(lSeparate[i]), width: w, height: sy(0) - sy(lSeparate[i]), fill: 'url(#blueL)'}, 'bar-separate-' + c);
    const lab = add(g, 'text', {x: cx, y: 680, 'text-anchor': 'middle', 'font-size': 12.6}, 'x-tick-label');
    lab.textContent = c;
  });
  axes(g, {l: 852.7, t: 500, r: 1045, b: 665.7}, null, sy, null, lYTicks, null, lYLabels);
})();

// ---------- m ----------
(function () {
  const g = panel('panel-m');
  const sy = linear(0, 10, 899, 779.3);
  const x0 = 377.3, step = 104.4, w = 41.5;
  mIhsa.forEach((v, i) => {
    const cx = x0 + step * i;
    add(g, 'rect', {x: cx - w, y: sy(v), width: w, height: sy(0) - sy(v), fill: 'url(#redM)'}, 'bar-ihsa-' + i);
    add(g, 'rect', {x: cx, y: sy(mSeparate[i]), width: w, height: sy(0) - sy(mSeparate[i]), fill: 'url(#blueM)'}, 'bar-separate-' + i);
    errorBar(g, cx - w / 2, sy(mIhsaLow[i]), sy(mIhsaHigh[i]), '#8c1620', 1.8, 1.2, 'error-ihsa-' + i);
    errorBar(g, cx + w / 2, sy(mSeparateLow[i]), sy(mSeparateHigh[i]), '#15406f', 1.8, 1.2, 'error-separate-' + i);
  });
  axes(g, {l: 325.3, t: 730.7, r: 533.3, b: 899}, null, sy, null, mYTicks);
})();

// ---------- n ----------
(function () {
  const g = panel('panel-n');
  const sx = linear(0.2, 1, 606.7, 784.3), sy = linear(0, 120, 884.7, 762);
  const series = [nCycle1, nCycle2, nCycle3, nCycle4, nCycle5, nCycle6];
  const colors = ['#555', '#d9434f', '#2e7ebf', '#2f9e5a', '#9a77dc', '#d8a020'];
  const marks = ['#666', '#e8565f', '#3f8fd0', '#3fae6a', '#a78aea', '#ee9a50'];
  series.forEach((s, j) => {
    line(g, nHumidity, s, sx, sy, colors[j], 1.5, 'cycle-' + (j + 1) + '-line');
    nHumidity.forEach((h, i) => {
      errorBar(g, sx(h), sy(s[i] - nError[i]), sy(s[i] + nError[i]), colors[j], 2, 1, 'cycle-' + (j + 1) + '-error-' + i);
    });
    circles(g, nHumidity, s, sx, sy, marks[j], 2.8, 'cycle-' + (j + 1));
  });
  axes(g, {l: 594.3, t: 731.7, r: 795.7, b: 894}, sx, sy, nXTicks, nYTicks, nXLabels);
})();

// ---------- o ----------
(function () {
  const g = panel('panel-o');
  const sy = linear(0, 150, 889.3, 759.7);
  const x0 = 889.7, step = 32.8, w = 5.2;
  const series = [oRh22, oRh43, oRh59, oRh75, oRh98];
  const errs = [oErr22, oErr43, oErr59, oErr75, oErr98];
  const colors = ['#8a80f0', '#e07a6a', '#2e9a50', '#1a80b0', '#b0202f'];
  oCycles.forEach((c, i) => {
    const cx = x0 + step * i;
    series.forEach((s, j) => {
      const bx = cx + (j - 2) * w;
      add(g, 'rect', {x: bx - w / 2, y: sy(s[i]), width: w, height: sy(0) - sy(s[i]), fill: colors[j]}, 'bar-cycle-' + (i + 1) + '-series-' + j);
      errorBar(g, bx, sy(s[i] - errs[j][i]), sy(s[i] + errs[j][i]), '#111', 1.6, 1, 'error-cycle-' + (i + 1) + '-series-' + j);
    });
    add(g, 'line', {x1: cx, x2: cx, y1: 889.3, y2: 893, stroke: '#1a1a1a', 'stroke-width': 1.1}, 'x-tick');
    const lab = add(g, 'text', {transform: 'translate(' + (cx + 16) + ',901) rotate(-45)', 'text-anchor': 'end', 'font-size': 13.4}, 'x-tick-label');
    lab.textContent = c;
  });
  axes(g, {l: 873, t: 730.7, r: 1069, b: 889.3}, null, sy, null, oYTicks);
})();

// ---------- device photo pads (decorative) ----------
(function () {
  const py = panel('pads-yellow');
  [378, 440, 505, 570].forEach(x => {
    [158, 220, 308, 372].forEach(y => {
      add(py, 'rect', {x: x - 16, y: y - 14, width: 32, height: 28, fill: '#f0e2b4'}, 'sensor-pad');
      add(py, 'rect', {x: x - 16, y: y + 6, width: 6, height: 10, fill: '#6a5020'}, 'sensor-pad-lead');
      add(py, 'rect', {x: x + 10, y: y + 6, width: 6, height: 10, fill: '#6a5020'}, 'sensor-pad-lead');
    });
  });
  const pg = panel('pads-green');
  [365, 445, 527, 607].forEach(x => {
    [558, 638, 748, 825].forEach(y => {
      add(pg, 'path', {d: 'M' + (x - 25) + ',' + (y - 18) + 'h13v12h24v-12h13v36h-13v-12h-24v12h-13z', fill: '#d2bc55'}, 'layout-pad');
      add(pg, 'rect', {x: x - 12, y: y - 16, width: 24, height: 8, fill: '#1d4a26'}, 'layout-pad-gap');
    });
  });
  const pb = panel('pads-bent');
  [[395,1025],[460,1025],[385,1070],[450,1070],[525,1060],[555,1070],[385,1130],[445,1135],[515,1110],[555,1130],[385,1190],[445,1195],[520,1170],[560,1145]].forEach(p => {
    add(pb, 'rect', {x: p[0] - 16, y: p[1] - 12, width: 32, height: 24, fill: '#efcf90', opacity: .9}, 'bent-sensor-pad');
  });
})();
</script>
</body>
</html>
